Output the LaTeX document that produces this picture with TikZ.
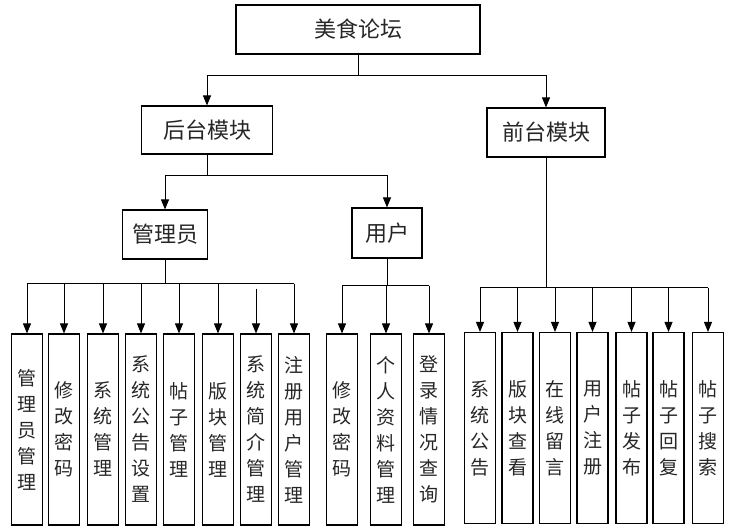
\documentclass[tikz,border=0pt]{standalone}
\usepackage{fontspec}
\setmainfont{Noto Sans CJK SC}
\usetikzlibrary{arrows.meta}
\tikzset{
  box/.style={draw=black, line width=1.1pt, inner sep=0pt, text=black!85, font=\fontsize{22}{24}\selectfont},
  leaf/.style={draw=black, line width=1.1pt, inner sep=0pt, minimum width=31pt, minimum height=191pt,
    align=center, text=black!85, font=\fontsize{19}{26}\selectfont},
  conn/.style={line width=0.9pt},
  arr/.style={line width=0.9pt, -{Triangle[width=8pt,length=10pt]}},
}
\begin{document}
\begin{tikzpicture}[x=1pt,y=-1pt]
\useasboundingbox (0,0) rectangle (736,532);
% main boxes
\node[box, minimum width=244pt, minimum height=49pt] (top) at (358,29.5) {美食论坛};
\node[box, minimum width=131pt, minimum height=48pt] (back) at (207,130) {后台模块};
\node[box, minimum width=118pt, minimum height=49pt] (front) at (546,132.5) {前台模块};
\node[box, minimum width=85pt, minimum height=49pt] (adm) at (165,234.5) {管理员};
\node[box, minimum width=70pt, minimum height=50pt] (usr) at (387,233) {用户};
% admin leaves
\node[leaf] (a1) at (27,429.5) {管\\理\\员\\管\\理};
\node[leaf] (a2) at (64,429.5) {修\\改\\密\\码};
\node[leaf] (a3) at (103,429.5) {系\\统\\管\\理};
\node[leaf] (a4) at (141,429.5) {系\\统\\公\\告\\设\\置};
\node[leaf] (a5) at (179,429.5) {帖\\子\\管\\理};
\node[leaf] (a6) at (218,429.5) {版\\块\\管\\理};
\node[leaf] (a7) at (256,429.5) {系\\统\\简\\介\\管\\理};
\node[leaf] (a8) at (294,429.5) {注\\册\\用\\户\\管\\理};
% user leaves
\node[leaf] (u1) at (342,429.5) {修\\改\\密\\码};
\node[leaf] (u2) at (386,429.5) {个\\人\\资\\料\\管\\理};
\node[leaf] (u3) at (429,429.5) {登\\录\\情\\况\\查\\询};
% front leaves
\node[leaf] (f1) at (480,428) {系\\统\\公\\告};
\node[leaf] (f2) at (517.5,428) {版\\块\\查\\看};
\node[leaf] (f3) at (555,428) {在\\线\\留\\言};
\node[leaf] (f4) at (592.5,428) {用\\户\\注\\册};
\node[leaf] (f5) at (631.5,428) {帖\\子\\发\\布};
\node[leaf] (f6) at (668.5,428) {帖\\子\\回\\复};
\node[leaf] (f7) at (708,428) {帖\\子\\搜\\索};
% top level connectors
\draw[conn] (top.south) -- ++(0,21) coordinate (tb);
\draw[arr] (tb) -| (back.north);
\draw[arr] (tb) -| (front.north);
% back module
\draw[conn] (back.south) -- ++(0,21) coordinate (bb);
\draw[arr] (bb) -| (adm.north);
\draw[arr] (bb) -| (usr.north);
% admin bus
\draw[conn] (adm.south) -- ++(0,24) coordinate (ab);
\draw[conn] (ab -| a1.north) -- (ab -| a8.north);
\foreach \n in {a1,a2,a3,a4,a5,a6,a8}{
  \draw[arr] (ab -| \n.north) -- (\n.north);
}
\draw[arr] ([yshift=-5pt]ab -| a7.north) -- (a7.north);
% user bus
\draw[conn] (usr.south) -- ++(0,27) coordinate (ub);
\draw[conn] (ub -| u1.north) -- (ub -| u3.north);
\foreach \n in {u1,u2,u3}{
  \draw[arr] (ub -| \n.north) -- (\n.north);
}
% front bus
\draw[conn] (front.south) -- ++(0,130) coordinate (fb);
\draw[conn] (fb -| f1.north) -- (fb -| f7.north);
\foreach \n in {f1,f2,f3,f4,f5,f6,f7}{
  \draw[arr] (fb -| \n.north) -- (\n.north);
}
\end{tikzpicture}
\end{document}
